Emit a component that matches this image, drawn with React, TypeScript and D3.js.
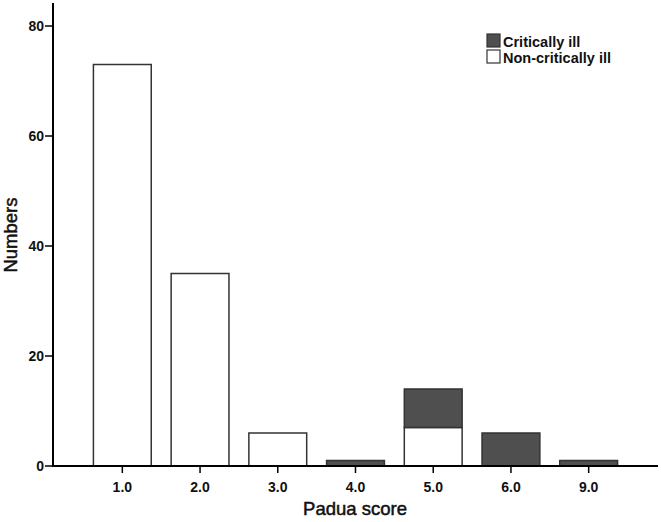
import React from "react";
import * as d3 from "d3";

const categories = ["1.0", "2.0", "3.0", "4.0", "5.0", "6.0", "9.0"];
const nonCritical = [73, 35, 6, 0, 7, 0, 0];
const critical = [0, 0, 0, 1, 7, 6, 1];
const yTicks = [0, 20, 40, 60, 80];
const seriesNames = ["Critically ill", "Non-critically ill"];

const W = 661;
const H = 522;
const DARK = "#4f4f4f";
const STROKE = "#333";

export default function App() {
  const x = d3
    .scaleBand<string>()
    .domain(categories)
    .range([53, 658])
    .paddingInner(0.256)
    .paddingOuter(0.52);
  const y = d3.scaleLinear().domain([0, 80]).range([466, 26]);
  const font = "'Liberation Sans', Arial, sans-serif";

  const bars: React.ReactNode[] = [];
  categories.forEach((c, i) => {
    const x0 = x(c)!;
    const bw = x.bandwidth();
    const nc = nonCritical[i];
    const cr = critical[i];
    if (nc > 0) {
      bars.push(
        <rect key={"n" + i} x={x0} y={y(nc)} width={bw} height={y(0) - y(nc)} fill="#fff" stroke={STROKE} strokeWidth={1.5} />
      );
    }
    if (cr > 0) {
      bars.push(
        <rect key={"c" + i} x={x0} y={y(nc + cr)} width={bw} height={y(nc) - y(nc + cr)} fill={DARK} stroke={STROKE} strokeWidth={1.5} />
      );
    }
  });

  return (
    <svg width={W} height={H} style={{ position: "absolute", left: 0, top: 0, background: "#fff" }} fontFamily={font}>
      <rect x={0} y={0} width={W} height={H} fill="#fff" />
      {bars}
      {/* y axis */}
      <line x1={53} y1={3} x2={53} y2={467} stroke="#000" strokeWidth={2} />
      {yTicks.map((t) => (
        <g key={t}>
          <line x1={45} x2={53} y1={y(t)} y2={y(t)} stroke="#000" strokeWidth={1.5} />
          <text x={44} y={y(t)} dy="0.36em" textAnchor="end" fontSize={14} fontWeight="bold" fill="#111">
            {t}
          </text>
        </g>
      ))}
      {/* x axis */}
      <line x1={52} y1={466} x2={658} y2={466} stroke="#000" strokeWidth={2} />
      {categories.map((c) => (
        <g key={c}>
          <line x1={x(c)! + x.bandwidth() / 2} x2={x(c)! + x.bandwidth() / 2} y1={466} y2={473} stroke="#000" strokeWidth={1.5} />
          <text x={x(c)! + x.bandwidth() / 2} y={492} textAnchor="middle" fontSize={14} fontWeight="bold" fill="#111">
            {c}
          </text>
        </g>
      ))}
      <text x={355} y={515} textAnchor="middle" fontSize={18.5} fill="#111" stroke="#111" strokeWidth={0.5}>
        Padua score
      </text>
      <text transform="translate(17,235) rotate(-90)" textAnchor="middle" fontSize={18.5} fill="#111" stroke="#111" strokeWidth={0.5}>
        Numbers
      </text>
      {/* legend */}
      <rect x={487} y={34} width={13} height={13} fill={DARK} stroke={STROKE} strokeWidth={1.2} />
      <text x={503} y={46.5} fontSize={14.5} fontWeight="bold" fill="#111">{seriesNames[0]}</text>
      <rect x={487} y={50} width={13} height={13} fill="#fff" stroke={STROKE} strokeWidth={1.2} />
      <text x={503} y={62.5} fontSize={14.5} fontWeight="bold" fill="#111">{seriesNames[1]}</text>
    </svg>
  );
}
